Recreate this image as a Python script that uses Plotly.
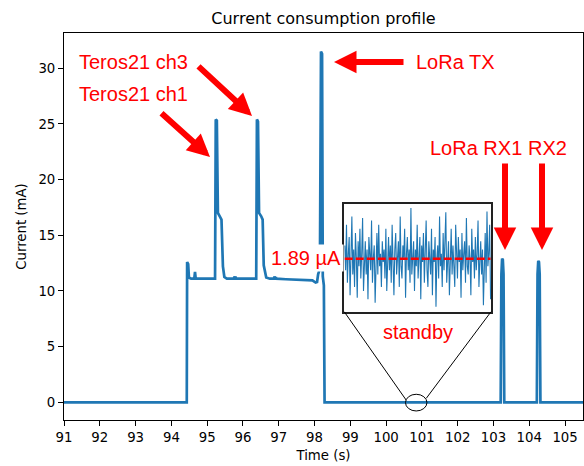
import plotly.graph_objects as go

# ---------------- data ----------------
time_s = [91.0, 94.43, 94.44, 94.47, 94.49, 94.55, 94.64, 94.66, 94.68, 95.22, 95.24, 95.27,
          95.30, 95.36, 95.40, 95.44, 95.48, 95.55, 95.75, 95.76, 95.77, 95.79, 95.80,
          96.37, 96.39, 96.42, 96.45, 96.51, 96.55, 96.58, 96.65, 96.75, 96.87, 96.88,
          96.90, 96.92, 96.93, 97.20, 97.60, 97.94, 98.03, 98.07, 98.10, 98.15, 98.18,
          98.21, 98.23, 98.26, 98.28, 103.20, 103.22, 103.24, 103.26, 103.28, 103.30,
          104.21, 104.23, 104.25, 104.27, 104.29, 104.31, 105.5]
current_mA = [0, 0, 12.6, 12.4, 11.2, 11.1, 11.1, 11.7, 11.1, 11.1, 25.4, 25.3,
              17.0, 16.7, 16.4, 12.2, 11.25, 11.1, 11.1, 11.3, 11.1, 11.3, 11.1,
              11.1, 25.4, 25.2, 17.0, 16.7, 16.4, 12.3, 11.2, 11.1, 11.1, 11.3,
              11.1, 11.25, 11.1, 11.05, 11.0, 10.95, 10.75, 10.8, 11.5, 12.0, 31.5,
              31.3, 11.3, 10.5, 0, 0, 11.5, 12.9, 12.8, 11.5, 0,
              0, 11.5, 12.7, 12.6, 11.5, 0, 0]

# standby detail (inset), in uA
standby_uA = [2.05, 1.75, 2.30, 1.60, 1.95, 2.15, 1.45, 1.85, 2.40, 1.70, 2.00, 1.55, 2.20, 1.90,
              1.42, 2.10, 1.80, 2.25, 1.65, 1.95, 2.38, 1.50, 1.85, 2.10, 1.70, 2.00, 1.40, 2.15,
              1.95, 1.75, 2.35, 1.60, 1.90, 2.05, 1.36, 1.85, 2.20, 1.70, 2.30, 1.80, 1.95, 1.55,
              2.10, 1.85, 2.00, 1.65, 2.25, 1.50, 1.90, 2.15, 1.75, 2.05, 1.60, 2.30, 1.85, 1.45,
              2.00, 2.20, 1.70, 1.95, 2.10, 1.55, 2.40, 1.80, 1.65, 2.05, 1.90, 2.25, 1.42, 1.95,
              2.15, 1.75, 2.00, 1.60, 2.50, 1.70, 1.85, 2.10, 1.50, 2.00, 1.80, 2.30, 1.65, 1.95,
              2.15, 1.40, 2.05, 1.85, 2.20, 1.60, 1.90, 2.35, 1.75, 1.55, 2.10, 1.95, 1.70, 2.25,
              1.45, 2.00, 1.85, 2.15, 1.31, 1.90, 2.05, 1.65, 2.40, 1.80, 1.95, 1.55, 2.20, 1.75,
              2.00, 2.45, 1.60, 1.85, 2.10, 1.45, 1.95, 2.25, 1.70, 2.05, 1.80, 1.55, 2.30, 1.90,
              1.65, 2.15, 1.85, 2.00, 1.42, 2.20, 1.75, 1.95, 2.10, 1.60, 2.38, 1.80, 1.70, 2.05,
              1.90, 1.45, 2.25, 1.85, 2.00, 1.65, 2.15, 1.75, 1.95, 2.35, 1.55, 1.85, 2.10, 1.70,
              2.00, 1.33, 1.90, 2.20, 1.60, 2.46, 1.80, 1.95, 2.30, 1.40]
standby_mean_uA = 1.89

x_ticks = list(range(91, 106))
y_ticks = [0, 5, 10, 15, 20, 25, 30]

# ---------------- layout geometry ----------------
W, H = 584, 466
ML, MR, MT, MB = 64, 1, 33, 46
XR = [91.0, 105.5]
YR = [-1.59, 33.16]
PW, PH = W - ML - MR, H - MT - MB

def px2paper(px, py):
    return (px - ML) / PW, (H - MB - py) / PH

def dx2paper(t):
    return (t - XR[0]) / (XR[1] - XR[0])

def dy2paper(v):
    return (v - YR[0]) / (YR[1] - YR[0])

# inset location in main data coords
INS_T = [98.83, 102.93]
INS_I = [8.13, 17.81]

blue = "#1f77b4"
red = "#ff0000"
afont = dict(family="Liberation Sans, Arial, sans-serif", size=20, color=red)
dfont = "DejaVu Sans, sans-serif"

fig = go.Figure()
fig.add_trace(go.Scatter(x=time_s, y=current_mA, mode="lines",
                         line=dict(color=blue, width=2.7), showlegend=False,
                         xaxis="x", yaxis="y"))
idx = list(range(len(standby_uA)))
fig.add_trace(go.Scatter(x=idx, y=standby_uA, mode="lines",
                         line=dict(color=blue, width=1.1), showlegend=False,
                         xaxis="x2", yaxis="y2"))
fig.add_trace(go.Scatter(x=[idx[0], idx[-1]], y=[standby_mean_uA, standby_mean_uA], mode="lines",
                         line=dict(color=red, width=2.4, dash="8px,3px"), showlegend=False,
                         xaxis="x2", yaxis="y2"))

axis_common = dict(showline=True, linecolor="black", linewidth=1, mirror=True,
                   ticks="outside", ticklen=5, tickwidth=1, tickcolor="black",
                   showgrid=False, zeroline=False, automargin=False,
                   tickfont=dict(family=dfont, size=13.3, color="black"))

fig.update_layout(
    width=W, height=H,
    margin=dict(l=ML, r=MR, t=MT, b=MB, pad=0, autoexpand=False),
    paper_bgcolor="white", plot_bgcolor="white",
    title=dict(text="Current consumption profile", x=(ML + PW / 2) / W,
               xanchor="center", y=1 - 18 / H, yanchor="middle", automargin=False,
               font=dict(family=dfont, size=16, color="black")),
    xaxis=dict(range=XR, tickvals=x_ticks, ticktext=[str(v) for v in x_ticks],
               title=dict(text="Time (s)", font=dict(family=dfont, size=13.3, color="black"),
                          standoff=6),
               **axis_common),
    yaxis=dict(range=YR, tickvals=y_ticks, ticktext=[str(v) for v in y_ticks],
               title=dict(text="Current (mA)", font=dict(family=dfont, size=13.3, color="black"),
                          standoff=8),
               **axis_common),
    xaxis2=dict(domain=[dx2paper(INS_T[0]), dx2paper(INS_T[1])], anchor="y2",
                range=[-0.5, len(standby_uA) - 0.5], showticklabels=False, ticks="",
                showline=True, linecolor="#222", linewidth=1.5, mirror=True,
                showgrid=False, zeroline=False, automargin=False),
    yaxis2=dict(domain=[dy2paper(INS_I[0]), dy2paper(INS_I[1])], anchor="x2",
                range=[1.25, 2.55], showticklabels=False, ticks="",
                showline=True, linecolor="#222", linewidth=1.5, mirror=True,
                showgrid=False, zeroline=False, automargin=False),
)

# zoom marker (ellipse) and connectors
fig.add_shape(type="circle", xref="x", yref="y", x0=100.54, x1=101.14, y0=-0.78, y1=0.72,
              line=dict(color="black", width=1))
fig.add_shape(type="line", xref="x", yref="y", x0=INS_T[0], y0=INS_I[0], x1=100.56, y1=0.2,
              line=dict(color="black", width=1))
fig.add_shape(type="line", xref="x", yref="y", x0=INS_T[1], y0=INS_I[0], x1=101.12, y1=0.35,
              line=dict(color="black", width=1))

# text labels
def label(text, px, py, xanchor="left", bg=None):
    x, y = px2paper(px, py)
    kw = {}
    if bg:
        kw = dict(bgcolor=bg, borderpad=2)
    fig.add_annotation(text=text, x=x, y=y, xref="paper", yref="paper", showarrow=False,
                       xanchor=xanchor, yanchor="middle", font=afont, **kw)

label("Teros21 ch3", 77, 62)
label("Teros21 ch1", 77, 94)
label("LoRa TX", 414, 62)
label("LoRa RX1", 428, 148)
label("RX2", 526, 148)
label("1.89 µA", 344, 258, xanchor="right", bg="white")
label("standby", 418, 332, xanchor="center")

# arrows
def arrow(tip_px, tip_py, ax, ay):
    x, y = px2paper(tip_px, tip_py)
    fig.add_annotation(x=x, y=y, xref="paper", yref="paper", ax=ax, ay=ay, text="",
                       showarrow=True, arrowhead=2, arrowsize=0.75, arrowwidth=6,
                       arrowcolor=red, standoff=0, startstandoff=0)

arrow(210, 157, -50, -45)
arrow(252, 116, -55, -51)
arrow(334, 62, 71, 0)
arrow(505, 250, 0, -88)
arrow(542, 250, 0, -88)

fig.write_html("out.html", config={"displayModeBar": False},
               post_script="document.body.style.margin='0';document.body.style.overflow='hidden';")
